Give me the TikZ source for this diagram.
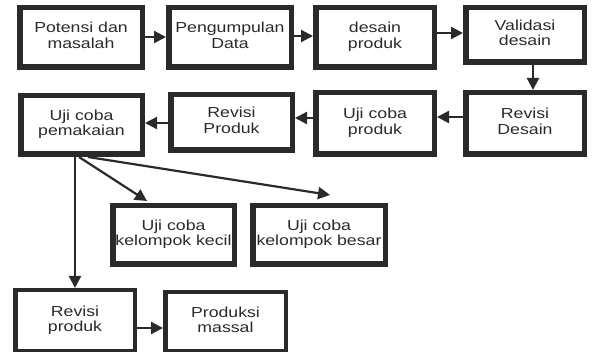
\documentclass[tikz,border=0pt]{standalone}
\usepackage{fontspec}
\setmainfont{Liberation Sans}
\usetikzlibrary{arrows.meta}
\definecolor{ink}{HTML}{2A2A2A}
\newcommand{\boxtext}[1]{\scalebox{1.22}[1]{\begin{tabular}{@{}c@{}}#1\end{tabular}}}
\tikzset{
  box/.style={draw=ink, line width=5.5pt, align=center, text=ink, inner sep=0pt,
    font=\fontsize{14.5pt}{15.5pt}\selectfont},
  thinbox/.style={box, line width=4.5pt},
  arr/.style={draw=ink, line width=2.2pt, -{Triangle[length=12pt,width=12pt]}}
}
\begin{document}
\begin{tikzpicture}[x=1pt,y=-1pt]
\renewcommand{\arraystretch}{1}
\useasboundingbox (0,0) rectangle (592,352);
\node[box, minimum width=122.5pt, minimum height=59.5pt] (b1) at (81,37.5) {\boxtext{Potensi dan\\masalah}};
\node[box, minimum width=122.5pt, minimum height=59.5pt] (b2) at (230,37.5) {\boxtext{Pengumpulan\\Data}};
\node[box, minimum width=118.5pt, minimum height=59.5pt] (b3) at (375,37.5) {\boxtext{desain\\produk}};
\node[box, minimum width=118.5pt, minimum height=54.5pt] (b4) at (525,35) {\boxtext{Validasi\\desain}};
\node[box, minimum width=118.5pt, minimum height=61.5pt] (b5) at (525,123.5) {\boxtext{Revisi\\Desain}};
\node[box, minimum width=118.5pt, minimum height=61.5pt] (b6) at (375,123.5) {\boxtext{Uji coba\\produk}};
\node[box, minimum width=121.5pt, minimum height=55.5pt] (b7) at (231.5,122.5) {\boxtext{Revisi\\Produk}};
\node[box, minimum width=121.5pt, minimum height=58.5pt] (b8) at (81.5,125) {\boxtext{Uji coba\\pemakaian}};
\node[box, minimum width=121.5pt, minimum height=58.5pt] (b9) at (173.5,235) {\boxtext{Uji coba\\kelompok kecil}};
\node[box, minimum width=132.5pt, minimum height=58.5pt] (b10) at (319,235) {\boxtext{Uji coba\\kelompok besar}};
\node[thinbox, minimum width=119.5pt, minimum height=61.5pt] (b11) at (75,321) {\boxtext{Revisi\\produk}};
\node[thinbox, minimum width=120.5pt, minimum height=59.5pt] (b12) at (225.5,322) {\boxtext{Produksi\\massal}};
\coordinate (t1) at (147,201);
\coordinate (t2) at (330,195);
\coordinate (s1) at (79,157);
\coordinate (s2) at (88,157);
\draw[arr] (b1.east |- 0,37) -- (b2.west |- 0,37);
\draw[arr] (b2.east |- 0,36) -- (b3.west |- 0,36);
\draw[arr] (b3.east |- 0,33) -- (b4.west |- 0,33);
\draw[arr] (b4.south -| 533,0) -- (b5.north -| 533,0);
\draw[arr] (b5.west |- 0,117) -- (b6.east |- 0,117);
\draw[arr] (b6.west |- 0,118) -- (b7.east |- 0,118);
\draw[arr] (b7.west |- 0,123) -- (b8.east |- 0,123);
\draw[arr] (b8.south -| b11) -- (b11.north);
\draw[arr] (s1) -- (t1);
\draw[arr] (s2) -- (t2);
\draw[arr] (b11.east |- 0,328) -- (b12.west |- 0,328);
\end{tikzpicture}
\end{document}
